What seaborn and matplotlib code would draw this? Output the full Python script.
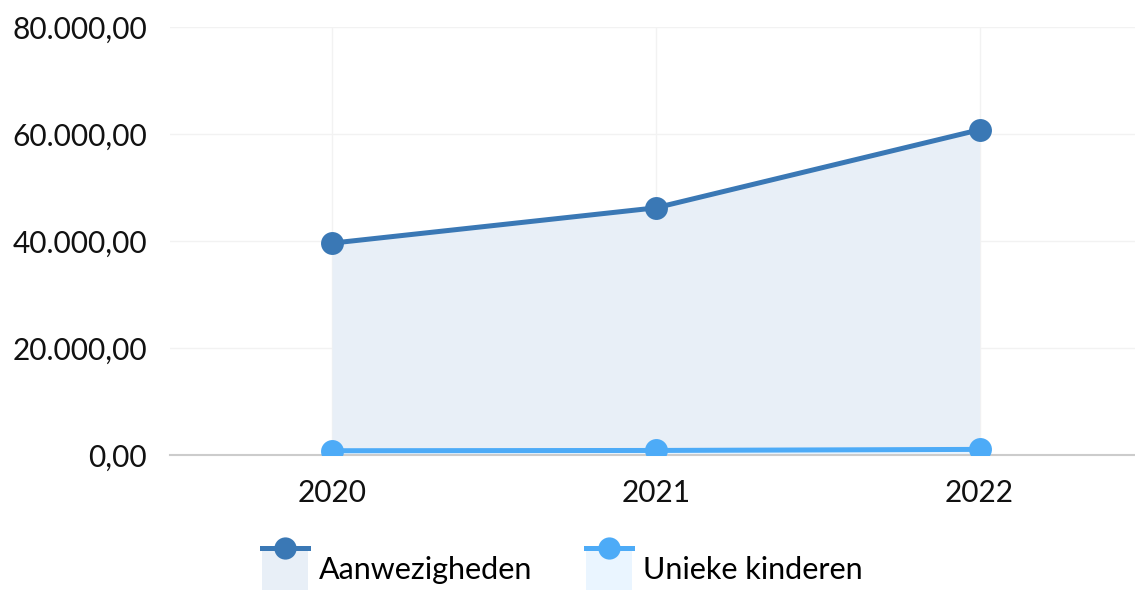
import pandas as pd
import seaborn as sns
import matplotlib.pyplot as plt
from matplotlib.lines import Line2D
from matplotlib.patches import Rectangle
from matplotlib.legend_handler import HandlerBase
from matplotlib.ticker import FuncFormatter

years = ["2020", "2021", "2022"]
aanwezigheden = [39600, 46200, 60800]
unieke_kinderen = [800, 850, 1050]
series_names = ["Aanwezigheden", "Unieke kinderen"]
line_colors = ["#3a78b5", "#4dabf7"]
fill_colors = ["#e8eff7", "#eaf5ff"]

df = pd.DataFrame({
    "jaar": years * 2,
    "waarde": aanwezigheden + unieke_kinderen,
    "reeks": [series_names[0]] * 3 + [series_names[1]] * 3,
})
df["pos"] = list(range(len(years))) * 2


def nl_format(v, pos):
    s = f"{v:,.2f}"
    return s.replace(",", "X").replace(".", ",").replace("X", ".")


class AreaLineHandler(HandlerBase):
    """Legend key: filled box with the line and marker on its top edge."""

    def create_artists(self, legend, orig_handle, xdescent, ydescent,
                       width, height, fontsize, trans):
        color, fill = orig_handle
        x0, y0 = -xdescent, -ydescent
        top = y0 + height
        rect = Rectangle((x0, y0), width, height, facecolor=fill,
                         edgecolor="none", transform=trans)
        line = Line2D([x0, x0 + width], [top, top], color=color, lw=3.6,
                      transform=trans)
        dot = Line2D([x0 + width / 2], [top], marker="o", markersize=16,
                     color=color, markeredgewidth=0, transform=trans)
        return [rect, line, dot]


plt.rcParams["font.family"] = ["Lato", "DejaVu Sans"]
fig = plt.figure(figsize=(11.35, 5.90), dpi=100)
ax = fig.add_axes([0.1498, 0.2288, 0.8502, 0.7254])

for name, color, fill in zip(series_names, line_colors, fill_colors):
    sub = df[df["reeks"] == name]
    ax.fill_between(sub["pos"], 0, sub["waarde"], color=fill, lw=0, zorder=1)
    sns.lineplot(data=sub, x="pos", y="waarde", color=color, lw=3.6,
                 marker="o", markersize=16.5, markeredgewidth=0,
                 ax=ax, zorder=3, legend=False)

ax.set_xlim(-0.5, 2.48)
ax.set_ylim(0, 80000)
ax.set_xticks(range(len(years)))
ax.set_xticklabels(years)
ax.set_yticks([0, 20000, 40000, 60000, 80000])
ax.yaxis.set_major_formatter(FuncFormatter(nl_format))
ax.tick_params(axis="both", length=0, labelsize=21.5, colors="#111111")
ax.tick_params(axis="x", pad=17)
ax.tick_params(axis="y", pad=16.5)
ax.grid(True, color="#f2f2f2", lw=1, zorder=0)
ax.set_axisbelow(True)
for side in ["top", "right", "left"]:
    ax.spines[side].set_visible(False)
ax.spines["bottom"].set_color("#cccccc")
ax.spines["bottom"].set_linewidth(1.5)
ax.set_xlabel("")
ax.set_ylabel("")

handles = [(c, f) for c, f in zip(line_colors, fill_colors)]
fig.legend(handles, series_names, handler_map={tuple: AreaLineHandler()},
           loc="lower left", bbox_to_anchor=(262 / 1135, 0.0), ncol=2,
           frameon=False, fontsize=22, handlelength=1.5, handleheight=1.75,
           handletextpad=0.36, columnspacing=1.75, borderpad=0,
           borderaxespad=0)

fig.savefig("out.png", dpi=100)
